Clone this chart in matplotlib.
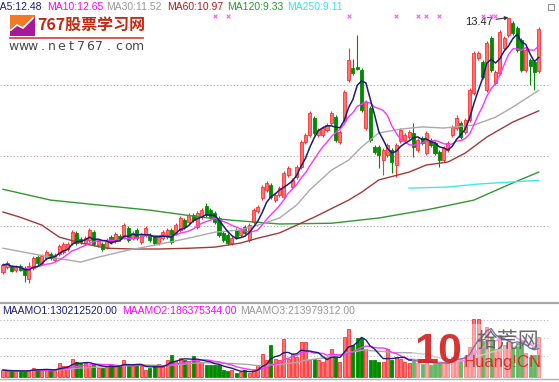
import numpy as np
import pandas as pd
import matplotlib
matplotlib.use('Agg')
import matplotlib.pyplot as plt
from matplotlib.patches import Rectangle, Polygon
import matplotlib.transforms as mtransforms

# K line data (price, yuan)
opens = [6.65, 6.78, 6.81, 6.70, 6.81, 6.76, 6.46, 6.76, 7.05, 6.89,
         7.03, 7.13, 6.97, 7.13, 7.19, 7.27, 7.43, 7.70, 7.53, 7.43,
         7.51, 7.72, 7.37, 7.40, 7.32, 7.59, 7.48, 7.61, 7.59, 7.83,
         7.56, 7.78, 7.45, 7.64, 7.64, 7.59, 7.43, 7.56, 7.59, 7.78,
         7.70, 7.78, 8.04, 7.99, 8.18, 7.86, 8.12, 8.42, 8.31, 8.23,
         8.10, 7.70, 7.64, 7.43, 7.78, 7.64, 7.86, 7.51, 7.99, 8.29,
         8.63, 8.85, 8.98, 8.58, 8.71, 8.66, 9.25, 8.93, 9.20, 9.46,
         10.13, 10.32, 10.78, 10.32, 10.32, 10.46, 10.64, 10.80, 10.13, 10.72,
         11.80, 12.12, 12.14, 12.06, 10.51, 11.05, 10.00, 10.00, 9.65, 9.79,
         9.92, 9.52, 10.16, 10.19, 10.27, 10.38, 9.92, 10.24, 9.84, 10.19,
         10.11, 9.87, 9.65, 9.92, 10.32, 10.51, 10.64, 10.40, 10.72, 11.45,
         12.39, 12.28, 11.53, 12.92, 11.72, 11.98, 12.65, 13.00, 13.32, 13.19,
         12.87, 12.06, 12.33, 12.28, 12.04]
closes = [6.84, 6.89, 6.68, 6.78, 6.70, 6.57, 6.81, 7.03, 6.89, 7.08,
          7.19, 7.03, 7.11, 7.35, 7.40, 7.40, 7.72, 7.43, 7.45, 7.56,
          7.78, 7.40, 7.48, 7.27, 7.51, 7.45, 7.67, 7.53, 7.91, 7.51,
          7.70, 7.56, 7.64, 7.83, 7.51, 7.43, 7.59, 7.72, 7.78, 7.45,
          7.91, 8.10, 7.86, 8.18, 8.04, 8.23, 8.31, 8.18, 8.12, 7.99,
          7.64, 7.51, 7.43, 7.56, 7.59, 7.78, 7.70, 7.91, 8.31, 8.39,
          8.93, 9.04, 8.66, 8.71, 8.90, 9.30, 9.44, 9.12, 9.46, 10.13,
          10.32, 10.91, 10.38, 10.46, 10.51, 10.59, 10.91, 10.19, 10.40, 11.47,
          12.33, 11.98, 12.09, 10.99, 11.21, 10.19, 9.87, 9.79, 9.92, 10.05,
          9.60, 10.05, 10.46, 10.32, 10.40, 10.00, 10.19, 10.11, 10.38, 10.05,
          9.84, 9.65, 9.97, 10.11, 10.54, 10.78, 10.27, 10.72, 11.53, 12.52,
          12.52, 11.88, 12.79, 12.06, 12.01, 13.08, 12.92, 13.45, 13.06, 12.60,
          12.06, 12.60, 12.17, 12.01, 13.16]
highs = [6.89, 6.95, 6.84, 6.84, 6.86, 6.81, 6.92, 7.08, 7.11, 7.13,
         7.24, 7.19, 7.16, 7.40, 7.45, 7.45, 7.78, 7.75, 7.59, 7.61,
         7.83, 7.78, 7.53, 7.45, 7.56, 7.64, 7.72, 7.67, 7.96, 7.88,
         7.75, 7.83, 7.70, 7.88, 7.70, 7.64, 7.64, 7.78, 7.83, 7.83,
         7.96, 8.15, 8.10, 8.23, 8.23, 8.29, 8.37, 8.50, 8.37, 8.29,
         8.15, 7.75, 7.70, 7.61, 7.83, 7.83, 7.91, 7.96, 8.37, 8.45,
         8.98, 9.09, 9.04, 8.77, 8.96, 9.36, 9.49, 9.17, 9.52, 10.19,
         10.38, 10.97, 10.83, 10.51, 10.56, 10.64, 10.97, 10.86, 10.46, 11.53,
         12.65, 12.36, 13.00, 12.12, 11.26, 11.10, 10.05, 10.05, 9.97, 10.11,
         9.97, 10.11, 10.51, 10.38, 10.46, 10.64, 10.24, 10.29, 10.43, 10.24,
         10.16, 9.92, 10.03, 10.16, 10.59, 10.86, 10.70, 10.78, 11.58, 12.57,
         12.57, 12.33, 12.84, 12.98, 12.06, 13.14, 12.98, 13.47, 13.38, 13.24,
         12.92, 12.65, 12.39, 12.33, 13.22]
lows = [6.60, 6.73, 6.65, 6.65, 6.68, 6.38, 6.36, 6.70, 6.84, 6.84,
        6.97, 6.97, 6.92, 7.08, 7.13, 7.21, 7.37, 7.37, 7.40, 7.37,
        7.45, 7.35, 7.32, 7.21, 7.27, 7.40, 7.43, 7.48, 7.53, 7.45,
        7.51, 7.51, 7.40, 7.59, 7.45, 7.37, 7.37, 7.51, 7.53, 7.40,
        7.64, 7.72, 7.80, 7.94, 7.99, 7.80, 8.07, 8.12, 8.07, 7.94,
        7.59, 7.45, 7.37, 7.37, 7.53, 7.59, 7.64, 7.45, 7.94, 8.23,
        8.58, 8.79, 8.61, 8.53, 8.66, 8.61, 9.20, 8.87, 9.14, 9.41,
        10.08, 10.27, 10.32, 10.27, 10.27, 10.40, 10.59, 10.13, 10.08, 10.67,
        11.74, 11.93, 12.06, 10.94, 10.46, 10.13, 9.81, 9.44, 9.25, 9.73,
        9.30, 9.20, 10.11, 10.13, 10.21, 9.73, 9.87, 10.05, 9.79, 10.00,
        9.79, 9.46, 9.60, 9.87, 10.27, 10.46, 10.21, 10.35, 10.67, 11.39,
        12.33, 11.82, 11.47, 12.01, 11.66, 11.93, 12.60, 12.95, 13.00, 12.55,
        12.01, 12.01, 11.66, 11.53, 11.98]

# turnover (million yuan)
amount = [28, 24, 24, 24, 24, 24, 28, 36, 32, 28, 28, 24, 28, 56, 44, 44, 72, 60, 56, 56,
          44, 48, 36, 36, 44, 48, 44, 44, 68, 44, 44, 52, 44, 28, 36, 44, 52, 44, 68, 88,
          64, 76, 68, 64, 84,
          64, 60, 48, 48, 48, 48, 28, 24, 28, 16, 20, 28, 16, 28, 48, 92, 68, 128, 72, 68,
          152, 72, 92, 80, 140, 140, 68, 72, 68, 60, 80, 112, 80, 60, 160, 192, 128, 156, 156, 112,
          68, 68, 60, 60, 112, 68,
          80, 72, 60, 56, 72, 56, 52, 68, 48, 52, 56, 60, 56, 80, 96, 72, 80, 120, 232, 232,
          144, 200, 160, 112, 168, 128, 152, 120, 136, 144, 96, 80, 88, 160]

# long moving averages (bar index, price)
ma30_idx = [0, 6, 12, 18, 22, 29, 35, 43, 49, 55, 59, 64, 68, 71, 76, 80, 83, 87, 92, 97, 102, 109, 114, 118, 124]
ma30 = [7.29, 7.16, 7.03, 6.92, 7.05, 7.24, 7.37, 7.56, 7.72, 7.78, 7.91, 8.10, 8.45, 8.85, 9.38, 9.65,
        10.00, 10.38, 10.48, 10.54, 10.51, 10.59, 10.80, 11.07, 11.52]
ma60_idx = [0, 4, 9, 13, 18, 24, 30, 36, 43, 49, 55, 59, 64, 72, 80, 83, 87, 94, 98, 103, 107, 112, 118, 124]
ma60 = [8.26, 8.12, 7.91, 7.59, 7.43, 7.29, 7.27, 7.27, 7.29, 7.32, 7.43, 7.56, 7.70, 8.12, 8.58, 8.79,
        9.12, 9.33, 9.52, 9.60, 9.84, 10.27, 10.67, 10.97]
ma120_idx = [0, 11, 22, 34, 46, 53, 64, 76, 87, 99, 109, 118, 124]
ma120 = [8.87, 8.58, 8.45, 8.31, 8.12, 8.04, 7.94, 7.96, 8.10, 8.34, 8.58, 9.04, 9.33]
ma250_idx = [94, 103, 110, 124]
ma250 = [8.90, 8.93, 9.01, 9.11]

mark_idx = [49, 52, 80, 91, 96, 98, 101, 111, 113, 114]

ma_labels = [('MA5:12.48', '#1c1c78'), ('MA10:12.65', '#ff00ff'), ('MA30:11.52', '#999999'),
             ('MA60:10.97', '#b01c1c'), ('MA120:9.33', '#2a9a2a'), ('MA250:9.11', '#30e4f4')]
amo_labels = [('MAAMO1:130212520.00', '#1c1c78'), ('MAAMO2:186375344.00', '#ff00ff'),
              ('MAAMO3:213979312.00', '#999999')]

W, H = 559, 382
fig = plt.figure(figsize=(W / 100, H / 100), dpi=100)
fig.patch.set_facecolor('white')
plt.rcParams['font.family'] = ['Liberation Sans', 'DejaVu Sans']

step = 4.32
xl = (-3 / step, (549 - 3) / step)

o = np.array(opens)
c = np.array(closes)
hi = np.array(highs)
lo = np.array(lows)
x = np.arange(len(o))
up = c >= o

red_edge = '#ff3030'
red_face = '#ff7474'
green = '#008a00'

# ---- price panel
ax = fig.add_axes([0, 1 - 302 / H, 549 / W, 302 / H])
ax.set_xlim(*xl)
ax.set_ylim(5.85, 13.94)
ax.axis('off')
for gy in [11.66, 9.76, 7.88]:
    ax.axhline(gy, color='#b8a8b0', lw=0.8, ls=(0, (1, 2)), zorder=0)

ax.vlines(x[up], lo[up], hi[up], color=red_edge, lw=0.8, zorder=2)
ax.vlines(x[~up], lo[~up], hi[~up], color=green, lw=0.8, zorder=2)
bot = np.minimum(o, c)
hgt = np.maximum(np.abs(c - o), 0.03)
ax.bar(x[up], hgt[up], bottom=bot[up], width=0.7, color=red_face, edgecolor=red_edge, lw=0.6, zorder=3)
ax.bar(x[~up], hgt[~up], bottom=bot[~up], width=0.7, color=green, edgecolor=green, lw=0.6, zorder=3)

cs = pd.Series(closes)
ax.plot(ma120_idx, ma120, color='#2f9a2f', lw=1.0, zorder=4)
ax.plot(ma250_idx, ma250, color='#40e6f4', lw=1.0, zorder=4)
ax.plot(ma60_idx, ma60, color='#a03a3a', lw=1.0, zorder=4)
ax.plot(ma30_idx, ma30, color='#aaaaaa', lw=1.0, zorder=4)
ax.plot(x, cs.rolling(10, min_periods=1).mean(), color='#ff33ff', lw=1.0, zorder=5)
ax.plot(x, cs.rolling(5, min_periods=1).mean(), color='#1c1c78', lw=1.1, zorder=6)

trans = mtransforms.blended_transform_factory(ax.transData, ax.transAxes)
ax.scatter(mark_idx, [0.947] * len(mark_idx), transform=trans, marker='x', s=7,
           color='#ff55ff', lw=0.8, zorder=6)

pk = int(np.argmax(hi))
ax.annotate('%.2f' % hi[pk], xy=(pk, hi[pk]), xytext=(-11, -3), textcoords='offset points',
            ha='right', va='center', fontsize=8, color='#222222',
            arrowprops=dict(arrowstyle='-|>', color='#333333', lw=0.8, mutation_scale=5,
                            shrinkA=0, shrinkB=0))

# ---- amount panel
av = fig.add_axes([0, 1 - 378 / H, 549 / W, 75 / H])
av.set_xlim(*xl)
av.set_ylim(-4, 296)
av.axis('off')
for gy in [228, 156, 84]:
    av.axhline(gy, color='#b0b0c8', lw=0.8, ls=(0, (1, 2)), zorder=0)
amt = np.array(amount)
av.bar(x[up], amt[up], width=0.7, color=red_face, edgecolor=red_edge, lw=0.6, zorder=2)
av.bar(x[~up], amt[~up], width=0.7, color=green, edgecolor=green, lw=0.6, zorder=2)
am = pd.Series(amount)
av.plot(x, am.rolling(20, min_periods=1).mean(), color='#aaaaaa', lw=1.0, zorder=3)
av.plot(x, am.rolling(10, min_periods=1).mean(), color='#ff33ff', lw=1.0, zorder=3)
av.plot(x, am.rolling(5, min_periods=1).mean(), color='#1c1c78', lw=1.0, zorder=4)

# ---- overlay in pixel space: labels, separators, logo, watermark
ov = fig.add_axes([0, 0, 1, 1], zorder=10)
ov.set_xlim(0, W)
ov.set_ylim(H, 0)
ov.axis('off')
ov.patch.set_alpha(0)

for (txt, col), px in zip(ma_labels, [-8.5, 47, 106, 167, 227, 287]):
    ov.text(px, 7, txt, color=col, fontsize=7.5, va='center', ha='left')
for (txt, col), px in zip(amo_labels, [2, 122, 240]):
    ov.text(px, 311, txt, color=col, fontsize=7.5, va='center', ha='left')

ov.plot([0, W], [303, 303], color='#a8a8a8', lw=1.6)
ov.plot([0, W], [378.5, 378.5], color='#b0b0b0', lw=1.0)
ov.add_patch(Rectangle((548, 4), 6, 6, fill=False, ec='#909090', lw=0.8))

# logo
ov.add_patch(Rectangle((10, 15), 25, 21, color='#f07a28', lw=0))
ov.add_patch(Polygon([(10, 36), (10, 31), (17, 26), (23, 29), (35, 17), (35, 36)], color='#a8189a', lw=0))
ov.plot([11, 17, 23, 33], [30, 25, 28, 18], color='white', lw=1.2)
ov.text(37, 25, '767股票学习网', color='#c42a12', fontsize=11.5, fontweight='bold', va='center',
        ha='left', family=['Noto Sans CJK SC', 'DejaVu Sans'])
ov.plot([10, 143], [37.5, 37.5], color='#e04848', lw=1.3)
for k, ch in enumerate('www.net767.com'):
    ov.text(14 + 9.5 * k, 46, ch, color='#4a4a4a', fontsize=9, va='center', ha='center',
            family=['DejaVu Sans'])

# watermark
ov.add_patch(Rectangle((412, 324), 136, 54, color='white', alpha=0.4, lw=0))
ov.text(438, 352, '10', color='#d42222', fontsize=31, fontweight='bold', va='center', ha='center',
        alpha=0.92)
ov.text(507, 341, '拾荒网', color='#5a5a5a', fontsize=15, va='center', ha='center',
        family=['Noto Sans CJK SC', 'DejaVu Sans'], alpha=0.9)
ov.text(503, 363, 'Huang!CN', color='#d42222', fontsize=12, va='center', ha='center', alpha=0.9)

fig.savefig('out.png', dpi=100)
